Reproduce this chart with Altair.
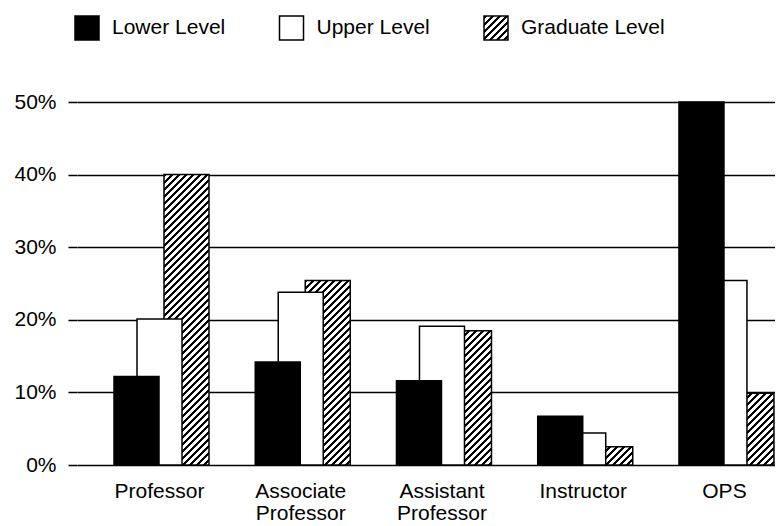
import altair as alt
import pandas as pd

# ---- data ----
categories = ["Professor", "Associate Professor", "Assistant Professor", "Instructor", "OPS"]
series = ["Lower Level", "Upper Level", "Graduate Level"]
lower = [12.2, 14.2, 11.6, 6.7, 50.0]
upper = [20.1, 23.8, 19.1, 4.4, 25.4]
graduate = [40.0, 25.4, 18.5, 2.5, 9.9]
y_ticks = [0, 10, 20, 30, 40, 50]

df = pd.DataFrame({
    "category": categories * 3,
    "series": [s for s in series for _ in categories],
    "value": lower + upper + graduate,
})
legend_df = pd.DataFrame({"series": series})

# ---- layout / style ----
W, H = 698, 363
YMAX = 50
BAR_W = 45
FONT = "Liberation Sans"
FS = 21

def hatch(w, h, period=7.0, line=3.0):
    """Diagonal '///' hatching as a linear gradient (bounding-box units)."""
    total = w + h
    k = total / (w * w + h * h)
    stops = []
    s = 0.0
    while s < total - 1e-9:
        a = s / total
        b = min((s + line) / total, 1.0)
        n = min((s + period) / total, 1.0)
        stops += [
            alt.GradientStop(offset=a, color="white"),
            alt.GradientStop(offset=a, color="black"),
            alt.GradientStop(offset=b, color="black"),
            alt.GradientStop(offset=b, color="white"),
            alt.GradientStop(offset=n, color="white"),
        ]
        s += period
    return alt.LinearGradient(gradient="linear", stops=stops,
                              x1=0, y1=0, x2=w * k, y2=h * k)

xscale = alt.Scale(type="band", domain=categories, paddingInner=0.5,
                   paddingOuter=0.221, align=0.756)
yscale = alt.Scale(domain=[0, YMAX], nice=False, zero=True)

yaxis = alt.Axis(values=y_ticks, labelExpr="datum.value + '%'", grid=True,
                 gridColor="black", gridWidth=1.5, gridOpacity=1, domain=False,
                 tickSize=9, tickColor="black", tickWidth=1.5,
                 labelFont=FONT, labelFontSize=FS, labelColor="black",
                 labelPadding=12, title=None)
xaxis = alt.Axis(labelExpr="split(datum.label, ' ')", labelFont=FONT,
                 labelFontSize=FS, labelLineHeight=22, labelColor="black",
                 ticks=False, domain=False, labelPadding=15, labelAngle=0,
                 title=None)

base = alt.Chart(df)

def bars(name, offset, fill, axis=None, extra_filter=None):
    flt = alt.datum.series == name
    if extra_filter is not None:
        flt = flt & (alt.datum.category == extra_filter)
    return base.transform_filter(flt).mark_bar(
        width=BAR_W, xOffset=offset, fill=fill, stroke="black", strokeWidth=1.5
    ).encode(
        x=alt.X("category:N", scale=xscale, axis=axis, sort=categories),
        y=alt.Y("value:Q", scale=yscale, axis=yaxis),
    )

layers = []
# graduate (hatched) drawn at the back, one layer per bar so each hatch is at 45 deg
for cat, g in zip(categories, graduate):
    h = g / YMAX * H
    layers.append(bars("Graduate Level", 27, hatch(BAR_W, h), extra_filter=cat))
layers.append(bars("Upper Level", 0, "white", axis=xaxis))
layers.append(bars("Lower Level", -23, "black"))

# ---- legend drawn as marks ----
lx = alt.X("series:N", scale=alt.Scale(type="point", domain=series,
                                        range=[10, 419], padding=0), axis=None)
LEG_Y = -74
leg_fills = {"Lower Level": "black", "Upper Level": "white", "Graduate Level": hatch(24, 24)}
for s in series:
    layers.append(
        alt.Chart(legend_df).transform_filter(alt.datum.series == s)
        .mark_square(size=576, fill=leg_fills[s], stroke="black", strokeWidth=1.5, opacity=1)
        .encode(x=lx, y=alt.value(LEG_Y))
    )
layers.append(
    alt.Chart(legend_df).mark_text(align="left", baseline="middle", dx=25,
                                   font=FONT, fontSize=FS, color="black")
    .encode(x=lx, y=alt.value(LEG_Y), text="series:N")
)

chart = alt.layer(*layers).resolve_scale(x="independent").properties(
    width=W, height=H,
    autosize=alt.AutoSizeParams(type="none"),
    padding={"left": 69, "top": 94, "right": 0, "bottom": 58},
    background="white",
).configure_view(stroke=None)

chart.save("out.html", embed_options={"renderer": "svg", "actions": False})
